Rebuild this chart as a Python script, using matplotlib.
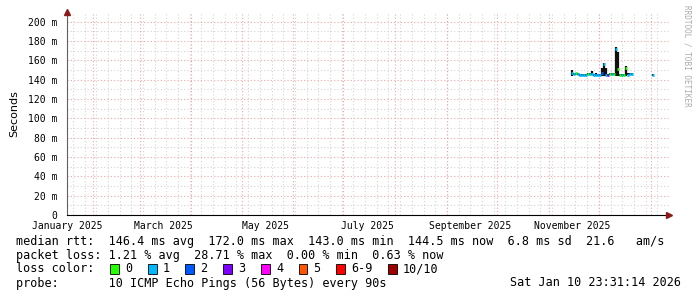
import matplotlib.pyplot as plt
from matplotlib.patches import Rectangle

# x in days since 2025-01-01, y in ms
days = [318.0, 319.2, 320.4, 321.6, 322.8, 324.0, 325.2, 326.4, 327.6, 328.8,
        330.0, 331.2, 332.4, 333.6, 334.8, 336.0, 337.2, 338.4, 339.5, 340.7,
        341.9, 343.1, 344.3, 345.5, 346.7, 347.9, 349.1, 350.3, 351.5, 352.7,
        353.9, 366.5]
median = [146.5, 145.5, 146.4, 146.0, 144.8, 144.8, 144.6, 144.8, 145.8, 145.8,
          146.2, 145.0, 145.2, 144.8, 144.8, 146.5, 156.0, 145.0, 144.5, 145.8,
          145.5, 145.8, 172.0, 151.0, 144.8, 144.8, 145.0, 152.0, 145.2, 145.8,
          146.0, 144.8]
smoke_lo = [144.0, 144.5, 145.0, 145.0, 144.0, 144.0, 144.0, 144.0, 145.0, 145.0,
            145.0, 144.0, 144.0, 144.0, 144.0, 144.0, 144.0, 144.0, 143.5, 145.0,
            144.5, 145.0, 144.0, 144.0, 144.0, 144.0, 144.0, 144.0, 144.5, 145.0,
            145.0, 144.0]
smoke_hi = [149.5, 146.5, 147.0, 147.0, 146.0, 146.0, 146.0, 146.0, 147.0, 147.0,
            148.5, 146.0, 146.5, 146.0, 146.0, 152.0, 157.0, 152.0, 146.0, 147.0,
            146.5, 147.0, 173.5, 169.0, 146.0, 146.0, 146.0, 154.0, 146.5, 147.0,
            147.0, 146.0]
loss = [1, 1, 0, 1, 1, 1, 1, 1, 0, 1,
        1, 1, 1, 1, 1, 2, 1, 1, 3, 0,
        1, 0, 1, 0, 0, 1, 0, 0, 1, 1,
        1, 1]

loss_labels = ['0', '1', '2', '3', '4', '5', '6-9', '10/10']
loss_colors = ['#26ff00', '#00b8ff', '#0059ff', '#7e00ff', '#ff00ff', '#ff5500', '#ff0000', '#a00000']

month_starts = [31, 59, 90, 120, 151, 181, 212, 243, 273, 304, 334, 365]
label_pos = [15.5, 73.5, 134.5, 195.5, 257, 318]
label_txt = ['January 2025', 'March 2025', 'May 2025', 'July 2025', 'September 2025', 'November 2025']
xmin, xmax = 15.6, 376.0

W, H = 697, 297
fig = plt.figure(figsize=(W / 100, H / 100), dpi=100)
ax = fig.add_axes([67 / W, 1 - 215 / H, (669 - 67) / W, (215 - 12) / H])
ax.set_xlim(xmin, xmax)
ax.set_ylim(0, 210)

mono = 'DejaVu Sans Mono'
dots = (0, (1, 2))

# grid
for d in range(19, 376, 7):
    ax.axvline(d, color='#d4d4d4', lw=0.8, ls=dots, zorder=0)
for v in range(10, 210, 20):
    ax.axhline(v, color='#d4d4d4', lw=0.8, ls=dots, zorder=0)
for d in month_starts:
    ax.axvline(d, color='#f2a6a6', lw=0.8, ls=dots, zorder=0)
for v in range(20, 210, 20):
    ax.axhline(v, color='#f2a6a6', lw=0.8, ls=dots, zorder=0)

# smoke + median
ax.vlines(days, smoke_lo, smoke_hi, color='#111111', lw=1.6, zorder=2)
for d, m, l in zip(days, median, loss):
    ax.hlines(m, d - 0.7, d + 0.7, color=loss_colors[l], lw=2.0, zorder=3)

for s in ['top', 'right']:
    ax.spines[s].set_visible(False)
ax.spines['left'].set_color('#606060')
ax.spines['bottom'].set_color('black')
ax.plot([xmin], [210], marker='^', color='#8b1a1a', ms=4, clip_on=False, zorder=5)
ax.plot([xmax], [0], marker='>', color='#8b1a1a', ms=4, clip_on=False, zorder=5)

ax.set_yticks(range(0, 201, 20))
ax.set_yticklabels(['0'] + ['%d m' % v for v in range(20, 201, 20)], family=mono, fontsize=7)
ax.set_xticks(label_pos)
ax.set_xticklabels(label_txt, family=mono, fontsize=7)
ax.tick_params(axis='y', length=0, pad=7)
ax.tick_params(axis='x', length=0, pad=4)
ax.set_ylabel('Seconds', fontsize=8, labelpad=6)

fig.text(687 / W, 1 - 5 / H, 'RRDTOOL / TOBI OETIKER', rotation=-90, family=mono,
         fontsize=5.5, color='#aaaaaa', ha='center', va='top')

def fy(y):
    return 1 - y / H

fs = 8.5
fig.text(16 / W, fy(241), 'median rtt:  146.4 ms avg  172.0 ms max  143.0 ms min  144.5 ms now  6.8 ms sd  21.6   am/s',
         family=mono, fontsize=fs, va='center')
fig.text(16 / W, fy(255), 'packet loss: 1.21 % avg  28.71 % max  0.00 % min  0.63 % now',
         family=mono, fontsize=fs, va='center')
fig.text(16 / W, fy(269), 'loss color:', family=mono, fontsize=fs, va='center')
box_x = [110, 148, 185.5, 223, 261, 298.6, 336, 388]
for bx, lab, c in zip(box_x, loss_labels, loss_colors):
    fig.patches.append(Rectangle((bx / W, fy(274)), 8.6 / W, 10 / H, transform=fig.transFigure,
                                 facecolor=c, edgecolor='black', lw=0.6))
    fig.text((bx + 15) / W, fy(269), lab, family=mono, fontsize=fs, va='center')
fig.text(16 / W, fy(283), 'probe:       10 ICMP Echo Pings (56 Bytes) every 90s',
         family=mono, fontsize=fs, va='center')
fig.text(681 / W, fy(283), 'Sat Jan 10 23:31:14 2026', family=mono, fontsize=fs, va='center', ha='right')

fig.savefig('out.png', dpi=100)
